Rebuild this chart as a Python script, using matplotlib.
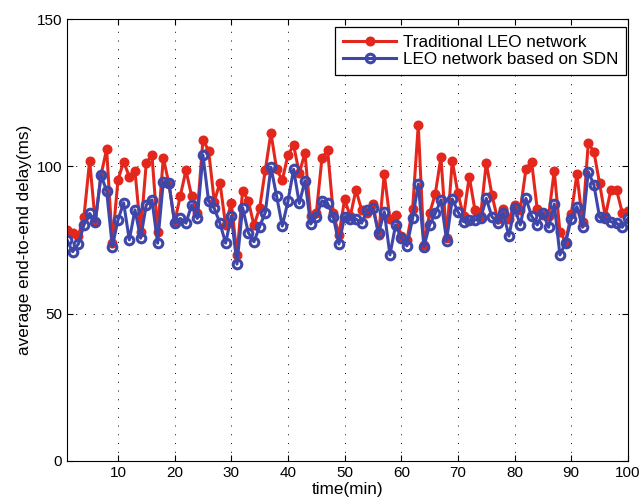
import numpy as np
import matplotlib.pyplot as plt

plt.rcParams['font.family'] = ['Liberation Sans', 'DejaVu Sans']

t = np.arange(1, 101)

traditional = [78.4, 77.4, 76.5, 82.9, 101.9, 81.0, 97.0, 105.8, 73.9, 95.3,
               101.6, 96.5, 98.5, 77.8, 101.2, 103.8, 77.8, 102.9, 94.0, 81.0,
               89.9, 98.7, 89.9, 84.0, 109.1, 105.3, 88.0, 94.5, 80.0, 87.6,
               69.9, 91.7, 88.3, 80.0, 85.7, 98.7, 111.4, 99.0, 95.3, 103.8,
               107.2, 97.6, 104.6, 83.1, 84.0, 102.7, 105.5, 84.0, 76.7, 88.8,
               83.0, 92.0, 85.2, 84.0, 87.2, 76.7, 97.4, 82.0, 83.5, 76.3,
               75.0, 85.4, 114.0, 73.3, 84.0, 90.6, 103.1, 75.5, 101.9, 90.8,
               83.0, 96.5, 85.2, 83.0, 101.2, 90.3, 82.0, 85.4, 82.0, 86.9,
               85.0, 99.0, 101.6, 85.4, 83.5, 83.0, 98.5, 77.8, 74.4, 83.8,
               97.4, 81.0, 107.8, 105.0, 94.2, 83.0, 92.0, 92.0, 84.3, 84.9]

sdn = [75.0, 71.0, 73.6, 80.1, 84.0, 81.2, 97.0, 91.7, 72.7, 81.8,
       87.6, 75.0, 85.2, 75.6, 86.9, 88.6, 73.9, 94.8, 94.2, 80.7,
       82.3, 80.7, 86.9, 82.3, 103.8, 88.1, 85.7, 80.7, 73.9, 83.1,
       66.8, 86.0, 77.5, 74.4, 79.5, 84.3, 99.7, 89.9, 79.7, 88.1,
       99.0, 87.4, 95.1, 80.4, 82.9, 88.3, 87.4, 82.9, 73.6, 82.9,
       82.1, 82.1, 80.7, 85.2, 85.7, 77.2, 84.6, 69.9, 80.1, 75.6,
       73.0, 82.3, 94.0, 72.7, 80.1, 84.0, 88.6, 74.8, 88.9, 84.6,
       81.2, 81.8, 81.8, 82.3, 89.1, 82.9, 80.7, 84.0, 76.3, 86.0,
       80.1, 89.1, 83.1, 80.1, 84.0, 79.3, 87.2, 69.9, 74.1, 82.1,
       86.3, 79.3, 98.2, 93.7, 82.7, 82.3, 81.2, 80.7, 79.3, 82.3]

red = '#E3271D'
blue = '#3E47A9'

fig = plt.figure(figsize=(6.44, 5.03), dpi=100)
ax = fig.add_axes([0.104, 0.084, 0.871, 0.878])

ax.plot(t, traditional, color=red, lw=2.2, marker='o', ms=6.2, mew=1,
        mfc=red, mec=red, label='Traditional LEO network')
ax.plot(t, sdn, color=blue, lw=2.2, marker='o', ms=6.2, mfc='none',
        mec=blue, mew=2.2, label='LEO network based on SDN')

ax.set_xlim(1, 100)
ax.set_ylim(0, 150)
ax.set_xticks(np.arange(10, 101, 10))
ax.set_yticks([0, 50, 100, 150])
ax.tick_params(direction='in', labelsize=11, length=4, top=True, right=True)
ax.grid(True, color='black', linestyle=(0, (1, 8)), linewidth=0.7)
ax.set_xlabel('time(min)', fontsize=12.3, labelpad=2)
ax.set_ylabel('average end-to-end delay(ms)', fontsize=12.3, labelpad=3)

leg = ax.legend(loc='upper right', fontsize=12.3, fancybox=False,
                edgecolor='black', framealpha=1, handlelength=3.1,
                handletextpad=0.4, labelspacing=0.15, borderpad=0.45,
                bbox_to_anchor=(626 / 644, 1 - 27 / 503),
                bbox_transform=fig.transFigure, borderaxespad=0)
leg.get_frame().set_linewidth(0.9)

fig.savefig('out.png', dpi=100)
